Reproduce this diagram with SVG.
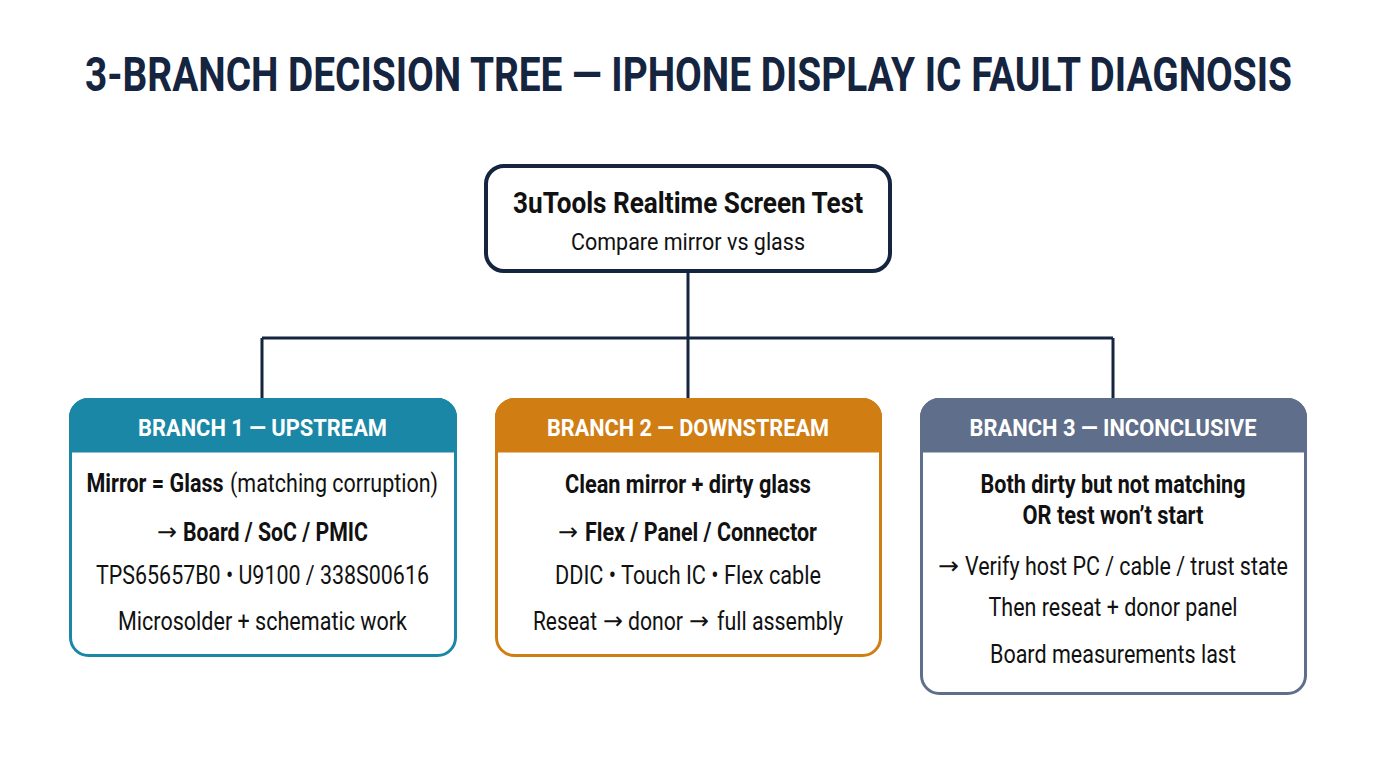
<svg xmlns="http://www.w3.org/2000/svg" width="1376" height="768" viewBox="0 0 1376 768">
<style>
text{font-family:Roboto,"Liberation Sans",sans-serif;text-anchor:middle;fill:#111}
.title{font-size:48px;font-weight:700;fill:#15243f}
.hd{font-size:24px;font-weight:700;fill:#fff}
.b{font-weight:700}
.body{font-size:25.5px}
.s{text-anchor:start}
.ar{font-family:"DejaVu Sans",sans-serif;font-size:24px;text-anchor:start}
.line{stroke:#15243f;stroke-width:3;fill:none}
</style>
<rect width="1376" height="768" fill="#fff"/>
<text class="title" x="688.5" y="91" textLength="1207" lengthAdjust="spacingAndGlyphs">3-BRANCH DECISION TREE — IPHONE DISPLAY IC FAULT DIAGNOSIS</text>
<g id="connectors">
<path class="line" d="M688,272 V400 M262,338 H1113 M262,338 V400 M1113,338 V400"/>
</g>
<g id="root">
<rect x="486" y="166" width="404" height="105" rx="18" fill="#fff" stroke="#15243f" stroke-width="4"/>
<text class="b" x="688" y="213" font-size="29" textLength="350" lengthAdjust="spacingAndGlyphs">3uTools Realtime Screen Test</text>
<text x="688" y="250" font-size="24.5" textLength="234" lengthAdjust="spacingAndGlyphs">Compare mirror vs glass</text>
</g>
<g id="branch1">
<rect x="70.5" y="399.5" width="385" height="256" rx="18" fill="#fff" stroke="#1b87a6" stroke-width="3"/>
<path d="M70.5,451 V417.5 a18,18 0 0 1 18,-18 H437.5 a18,18 0 0 1 18,18 V451 Z" fill="#1b87a6" stroke="#1b87a6" stroke-width="3"/>
<text class="hd" x="262.5" y="436" textLength="249" lengthAdjust="spacingAndGlyphs">BRANCH 1 — UPSTREAM</text>
<text class="body b" x="155" y="492" textLength="137" lengthAdjust="spacingAndGlyphs">Mirror = Glass</text>
<text class="body" x="334" y="492" textLength="208" lengthAdjust="spacingAndGlyphs">(matching corruption)</text>
<text class="ar" x="157" y="540" textLength="20" lengthAdjust="spacingAndGlyphs">→</text>
<text class="body b s" x="183" y="541" textLength="185" lengthAdjust="spacingAndGlyphs">Board / SoC / PMIC</text>
<text class="body" x="262.5" y="584" textLength="333" lengthAdjust="spacingAndGlyphs">TPS65657B0 • U9100 / 338S00616</text>
<text class="body" x="262.5" y="630" textLength="289" lengthAdjust="spacingAndGlyphs">Microsolder + schematic work</text>
</g>
<g id="branch2">
<rect x="496.5" y="399.5" width="384" height="256" rx="18" fill="#fff" stroke="#d07d14" stroke-width="3"/>
<path d="M496.5,451 V417.5 a18,18 0 0 1 18,-18 H862.5 a18,18 0 0 1 18,18 V451 Z" fill="#d07d14" stroke="#d07d14" stroke-width="3"/>
<text class="hd" x="688" y="436" textLength="282" lengthAdjust="spacingAndGlyphs">BRANCH 2 — DOWNSTREAM</text>
<text class="body b" x="688" y="493" textLength="246" lengthAdjust="spacingAndGlyphs">Clean mirror + dirty glass</text>
<text class="ar" x="558" y="540" textLength="20" lengthAdjust="spacingAndGlyphs">→</text>
<text class="body b s" x="585" y="541" textLength="232" lengthAdjust="spacingAndGlyphs">Flex / Panel / Connector</text>
<text class="body" x="688" y="584" textLength="266" lengthAdjust="spacingAndGlyphs">DDIC • Touch IC • Flex cable</text>
<text class="body s" x="533" y="630" textLength="64" lengthAdjust="spacingAndGlyphs">Reseat</text>
<text class="ar" x="603" y="629" textLength="20" lengthAdjust="spacingAndGlyphs">→</text>
<text class="body s" x="628" y="630" textLength="55" lengthAdjust="spacingAndGlyphs">donor</text>
<text class="ar" x="689" y="629" textLength="20" lengthAdjust="spacingAndGlyphs">→</text>
<text class="body s" x="717" y="630" textLength="126" lengthAdjust="spacingAndGlyphs">full assembly</text>
</g>
<g id="branch3">
<rect x="921.5" y="399.5" width="384" height="294" rx="18" fill="#fff" stroke="#5f6e8a" stroke-width="3"/>
<path d="M921.5,451 V417.5 a18,18 0 0 1 18,-18 H1287.5 a18,18 0 0 1 18,18 V451 Z" fill="#5f6e8a" stroke="#5f6e8a" stroke-width="3"/>
<text class="hd" x="1113" y="436" textLength="287" lengthAdjust="spacingAndGlyphs">BRANCH 3 — INCONCLUSIVE</text>
<text class="body b" x="1113" y="493" textLength="265" lengthAdjust="spacingAndGlyphs">Both dirty but not matching</text>
<text class="body b" x="1113" y="524" textLength="181" lengthAdjust="spacingAndGlyphs">OR test won’t start</text>
<text class="ar" x="938" y="574" textLength="21" lengthAdjust="spacingAndGlyphs">→</text>
<text class="body s" x="965" y="575" textLength="323" lengthAdjust="spacingAndGlyphs">Verify host PC / cable / trust state</text>
<text class="body" x="1113" y="616" textLength="249" lengthAdjust="spacingAndGlyphs">Then reseat + donor panel</text>
<text class="body" x="1113" y="663" textLength="246" lengthAdjust="spacingAndGlyphs">Board measurements last</text>
</g>
</svg>
